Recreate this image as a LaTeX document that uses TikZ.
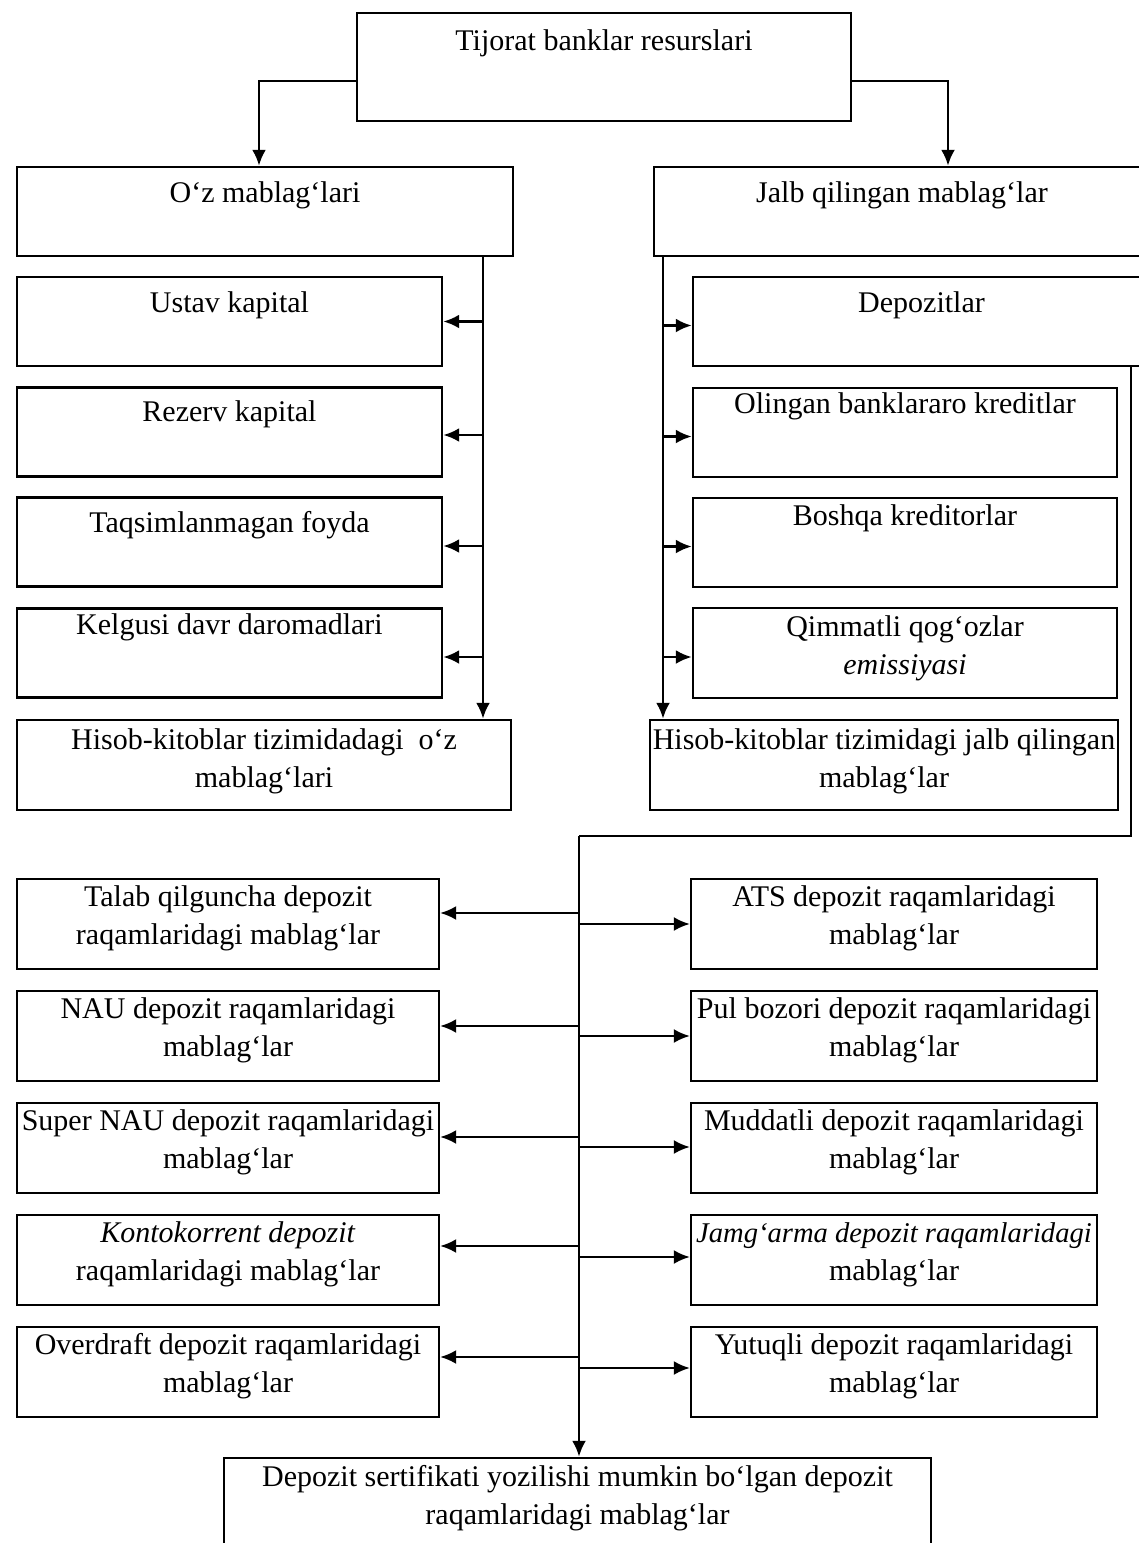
\documentclass[tikz,border=0pt]{standalone}
\usepackage{fontspec}
\setmainfont{Liberation Serif}
\usetikzlibrary{arrows.meta}
% invisible strut that fixes the height of the first text line
\newcommand\tstrut{\rule{0pt}{12pt}}
\begin{document}
\begin{tikzpicture}[x=0.5pt,y=-0.5pt,
  box/.style={draw, line width=1.2pt, inner sep=0pt, minimum height=45pt},
  txt/.style={anchor=north, inner sep=0pt, align=center, font=\fontsize{15}{19}\selectfont},
  link/.style={line width=1.4pt},
  arrow/.style={link, -{Latex[length=8pt,width=7pt]}},
  thinarrow/.style={line width=1.1pt, -{Latex[length=8pt,width=7pt]}}]
\useasboundingbox (0,0) rectangle (1139,1543);
\clip (0,0) rectangle (1139,1543);

% ---- top level ----
\node[box, minimum width=247pt, minimum height=54pt] (top) at (604,67) {};
\node[txt] (top-t) at ([yshift=-7pt]top.north) {\tstrut Tijorat banklar resurslari};

\node[box, minimum width=248pt, minimum height=44.5pt] (oz) at (265,211.5) {};
\node[txt] (oz-t) at ([yshift=-6pt]oz.north) {\tstrut O‘z mablag‘lari};

\node[box, minimum width=248pt, minimum height=44.5pt] (jalb) at (902,211.5) {};
\node[txt] (jalb-t) at ([yshift=-6pt]jalb.north) {\tstrut Jalb qilingan mablag‘lar};

% ---- own funds ----
\node[box, minimum width=212.5pt, minimum height=44.5pt] (ustav) at (229.5,321.5) {};
\node[txt] (ustav-t) at ([yshift=-6pt]ustav.north) {\tstrut Ustav kapital};
\node[box, minimum width=212.5pt, minimum height=44.5pt] (rezerv) at (229.5,432) {};
\node[txt] (rezerv-t) at ([yshift=-5.5pt]rezerv.north) {\tstrut Rezerv kapital};
\node[box, minimum width=212.5pt, minimum height=44.5pt] (taqsim) at (229.5,542) {};
\node[txt] (taqsim-t) at ([yshift=-6pt]taqsim.north) {\tstrut Taqsimlanmagan foyda};
\node[box, minimum width=212.5pt, minimum height=44.5pt] (kelgusi) at (229.5,653) {};
\node[txt] (kelgusi-t) at ([yshift=-1.5pt]kelgusi.north) {\tstrut Kelgusi davr daromadlari};
\node[box, minimum width=247pt, minimum height=45pt] (lhisob) at (264,765) {};
\node[txt] (lhisob-t) at ([yshift=-3pt]lhisob.north) {\tstrut Hisob-kitoblar tizimidadagi\ \ o‘z\\mablag‘lari};

% ---- attracted funds ----
\node[box, minimum width=228.5pt, minimum height=44.5pt] (depozit) at (921.5,321.5) {};
\node[txt] (depozit-t) at ([yshift=-6pt]depozit.north) {\tstrut Depozitlar};
\node[box, minimum width=212pt, minimum height=44.5pt] (olingan) at (905,432.5) {};
\node[txt] (olingan-t) at ([yshift=-1pt]olingan.north) {\tstrut Olingan banklararo kreditlar};
\node[box, minimum width=212pt, minimum height=44.5pt] (boshqa) at (905,542.5) {};
\node[txt] (boshqa-t) at ([yshift=-2pt]boshqa.north) {\tstrut Boshqa kreditorlar};
\node[box, minimum width=212pt, minimum height=45pt] (qimmat) at (905,653) {};
\node[txt] (qimmat-t) at ([yshift=-2.5pt]qimmat.north) {\tstrut Qimmatli qog‘ozlar\\\textit{emissiyasi}};
\node[box, minimum width=234pt, minimum height=45pt] (rhisob) at (884,765) {};
\node[txt] (rhisob-t) at ([yshift=-3pt]rhisob.north) {\tstrut Hisob-kitoblar tizimidagi jalb qilingan\\mablag‘lar};

% ---- deposit accounts, left ----
\node[box, minimum width=211pt] (talab) at (228,924) {};
\node[txt] (talab-t) at ([yshift=-2pt]talab.north) {\tstrut Talab qilguncha depozit\\raqamlaridagi mablag‘lar};
\node[box, minimum width=211pt] (nau) at (228,1036) {};
\node[txt] (nau-t) at ([yshift=-2pt]nau.north) {\tstrut NAU depozit raqamlaridagi\\mablag‘lar};
\node[box, minimum width=211pt] (snau) at (228,1148) {};
\node[txt] (snau-t) at ([yshift=-2pt]snau.north) {\tstrut Super NAU depozit raqamlaridagi\\mablag‘lar};
\node[box, minimum width=211pt] (konto) at (228,1260) {};
\node[txt] (konto-t) at ([yshift=-2pt]konto.north) {\tstrut\textit{Kontokorrent depozit}\\raqamlaridagi mablag‘lar};
\node[box, minimum width=211pt] (over) at (228,1372) {};
\node[txt] (over-t) at ([yshift=-2pt]over.north) {\tstrut Overdraft depozit raqamlaridagi\\mablag‘lar};

% ---- deposit accounts, right ----
\node[box, minimum width=203pt] (ats) at (894,924) {};
\node[txt] (ats-t) at ([yshift=-2pt]ats.north) {\tstrut ATS depozit raqamlaridagi\\mablag‘lar};
\node[box, minimum width=203pt] (pul) at (894,1036) {};
\node[txt] (pul-t) at ([yshift=-2pt]pul.north) {\tstrut Pul bozori depozit raqamlaridagi\\mablag‘lar};
\node[box, minimum width=203pt] (mudd) at (894,1148) {};
\node[txt] (mudd-t) at ([yshift=-2pt]mudd.north) {\tstrut Muddatli depozit raqamlaridagi\\mablag‘lar};
\node[box, minimum width=203pt] (jamg) at (894,1260) {};
\node[txt] (jamg-t) at ([yshift=-2pt]jamg.north) {\tstrut{\fontsize{14.3}{19}\selectfont\itshape Jamg‘arma depozit raqamlaridagi}\\mablag‘lar};
\node[box, minimum width=203pt] (yutuq) at (894,1372) {};
\node[txt] (yutuq-t) at ([yshift=-2pt]yutuq.north) {\tstrut Yutuqli depozit raqamlaridagi\\mablag‘lar};

\node[box, minimum width=353.5pt] (bottom) at (577.5,1503) {};
\node[txt] (bottom-t) at ([yshift=-2.5pt]bottom.north) {\tstrut Depozit sertifikati yozilishi mumkin bo‘lgan depozit\\raqamlaridagi mablag‘lar};

% ---- connectors ----
\coordinate (lsp) at (483,256);
\coordinate (rsp) at (663,256);
\coordinate (corner) at (1131,836);
\coordinate (hub) at (579,836);

\draw[arrow] ([yshift=-7pt]top.west) -| ([xshift=-3pt]oz.north);
\draw[arrow] ([yshift=-7pt]top.east) -| ([xshift=23pt]jalb.north);

\draw[arrow] (oz.south -| lsp) -- (lhisob.north -| lsp);
\foreach \b/\s in {ustav/0pt, rezerv/-1.5pt, taqsim/-2pt, kelgusi/-2pt}
  \draw[arrow] ([yshift=\s]\b.east -| lsp) -- ([yshift=\s]\b.east);

\draw[arrow] (jalb.south -| rsp) -- (rhisob.north -| rsp);
\foreach \b/\s in {depozit/-2pt, olingan/-2pt, boshqa/-2pt, qimmat/-2pt}
  \draw[arrow] ([yshift=\s]\b.west -| rsp) -- ([yshift=\s]\b.west);

\draw[link] (depozit.south -| corner) -- (corner) -- (hub);
\draw[arrow] (hub) -- (bottom.north -| hub);

\foreach \b/\s in {talab/5.5pt, nau/5pt, snau/5.5pt, konto/7pt, over/7.5pt}
  \draw[thinarrow] ([yshift=\s]\b.east -| hub) -- ([yshift=\s]\b.east);
\foreach \b/\s in {ats/0pt, pul/0pt, mudd/0.5pt, jamg/1.5pt, yutuq/2pt}
  \draw[thinarrow] ([yshift=\s]\b.west -| hub) -- ([yshift=\s]\b.west);
\end{tikzpicture}
\end{document}
